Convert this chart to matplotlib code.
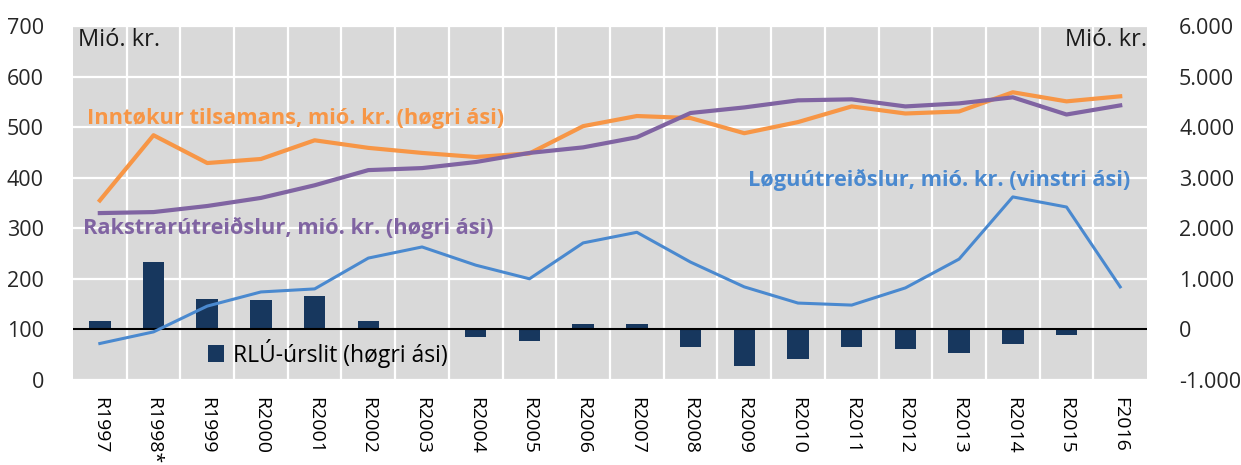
import numpy as np
import matplotlib
matplotlib.use('Agg')
from matplotlib import pyplot as plt
from matplotlib.ticker import FuncFormatter

plt.rcParams['font.family'] = ['Open Sans', 'DejaVu Sans']

# data
years = ['R1997', 'R1998*', 'R1999', 'R2000', 'R2001', 'R2002', 'R2003',
         'R2004', 'R2005', 'R2006', 'R2007', 'R2008', 'R2009', 'R2010',
         'R2011', 'R2012', 'R2013', 'R2014', 'R2015', 'F2016']
# right axis (mió. kr.)
inntokur = [2550, 3840, 3290, 3370, 3740, 3590, 3490, 3410, 3480, 4020,
            4220, 4180, 3880, 4100, 4410, 4270, 4310, 4690, 4510, 4610]
rakstur = [2300, 2320, 2440, 2600, 2850, 3150, 3190, 3310, 3490, 3600,
           3800, 4280, 4390, 4530, 4550, 4410, 4470, 4590, 4250, 4430]
rlu_urslit = [160, 1340, 610, 590, 650, 160, 0, -160, -240, 100,
              100, -340, -730, -590, -340, -380, -460, -280, -120, 0]
# left axis (mió. kr.)
loguutreidslur = [72, 95, 146, 174, 180, 241, 263, 227, 200, 271,
                  292, 233, 184, 152, 148, 182, 239, 362, 342, 184]

C_ORANGE = '#F79646'
C_PURPLE = '#8064A2'
C_BLUE = '#4A89CF'
C_NAVY = '#17375E'
C_BG = '#D9D9D9'

fig = plt.figure(figsize=(12.41, 4.65), dpi=100)
ax = fig.add_axes([0.0588, 0.183, 0.8655, 0.761])
ax2 = ax.twinx()

x = np.arange(len(years))

# background + grid live on ax2, so the bars sit above the grid
ax.set_zorder(ax2.get_zorder() + 1)
ax.patch.set_visible(False)
ax2.patch.set_visible(True)
ax2.patch.set_facecolor(C_BG)
ax2.set_axisbelow(True)
ax2.yaxis.grid(True, color='white', lw=1.6)
ax2.vlines(x[:-1] + 0.5, -1000, 6000, color='white', lw=1.6, zorder=0.5)

bars = ax2.bar(x, rlu_urslit, width=0.4, color=C_NAVY, zorder=2,
               label='RLÚ-úrslit (høgri ási)')
ax2.axhline(0, color='black', lw=1.5, zorder=2.5)
ax2.plot(x, inntokur, color=C_ORANGE, lw=3, zorder=3)
ax2.plot(x, rakstur, color=C_PURPLE, lw=3, zorder=3)
ax.plot(x, loguutreidslur, color=C_BLUE, lw=2.2, zorder=3)

ax.set_xlim(-0.5, len(years) - 0.5)
ax.set_ylim(0, 700)
ax.set_yticks(np.arange(0, 701, 100))
ax2.set_ylim(-1000, 6000)
ax2.set_yticks(np.arange(-1000, 6001, 1000))
ax2.yaxis.set_major_formatter(
    FuncFormatter(lambda v, p: f'{int(v):,}'.replace(',', '.')))

ax.set_xticks(x)
ax.set_xticklabels(years, rotation=-90, fontsize=14)
ax.tick_params(axis='x', length=0, pad=12)
ax.tick_params(axis='y', length=0, pad=21, labelsize=15.5, labelcolor='#262626')
ax2.tick_params(axis='y', length=0, pad=23, labelsize=15.5, labelcolor='#262626')

for a in (ax, ax2):
    for s in a.spines.values():
        s.set_visible(False)

# annotations
ax.text(0.005, 0.96, 'Mió. kr.', transform=ax.transAxes, fontsize=17,
        ha='left', va='center', color='#1a1a1a')
ax.text(1.0, 0.96, 'Mió. kr.', transform=ax.transAxes, fontsize=17,
        ha='right', va='center', color='#1a1a1a')
ax.text(0.013, 0.74, 'Inntøkur tilsamans, mió. kr. (høgri ási)',
        transform=ax.transAxes, fontsize=15.7, fontweight='bold',
        color=C_ORANGE, ha='left', va='center')
ax.text(0.009, 0.429, 'Rakstrarútreiðslur, mió. kr. (høgri ási)',
        transform=ax.transAxes, fontsize=15.7, fontweight='bold',
        color=C_PURPLE, ha='left', va='center')
ax.text(0.984, 0.565, 'Løguútreiðslur, mió. kr. (vinstri ási)',
        transform=ax.transAxes, fontsize=15.7, fontweight='bold',
        color=C_BLUE, ha='right', va='center')

ax.legend(handles=[bars], loc='center', bbox_to_anchor=(0.237, 0.076),
          frameon=False, fontsize=16.5, handlelength=0.7, handleheight=0.7,
          handletextpad=0.4, borderpad=0)

fig.savefig('out.png', dpi=100)
